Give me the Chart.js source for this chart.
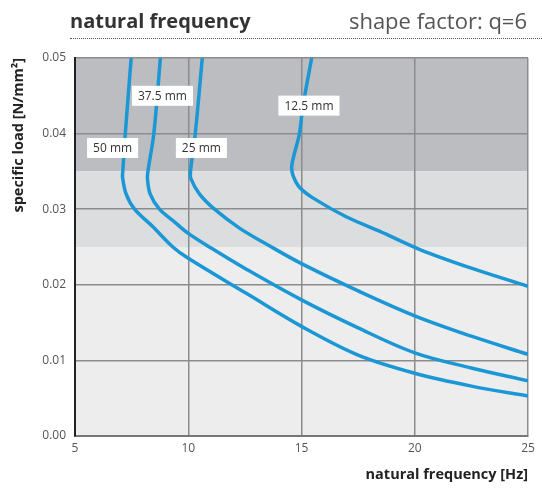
<!DOCTYPE html>
<html>
<head>
<meta charset="utf-8">
<script src="https://cdn.jsdelivr.net/npm/chart.js@4.4.1/dist/chart.umd.min.js"></script>
<style>
  body { margin: 0; background: #fff; font-family: "Open Sans", sans-serif; }
  #wrap { position: relative; width: 542px; height: 490px; }
  #head { position: absolute; left: 70px; top: 4px; width: 472px; height: 34px;
          border-bottom: 1px dotted #555; color: #333; }
  #head .t { position: absolute; left: 0; top: 3px; font-weight: bold; font-size: 20px; }
  #head .s { position: absolute; right: 15px; top: 1px; font-size: 22px; color: #555; }
  canvas { position: absolute; left: 0; top: 0; }
</style>
</head>
<body>
<div id="wrap">
  <canvas id="myChart" width="542" height="490"></canvas>
  <div id="head"><span class="t">natural frequency</span><span class="s">shape factor: q=6</span></div>
</div>
<script>
// curves: natural frequency [Hz] vs specific load [N/mm²]
var seriesNames = ["50 mm", "37.5 mm", "25 mm", "12.5 mm"];

var freq50 = [7.48, 7.22, 7.11, 7.10, 7.26, 7.63, 8.43, 9.32, 10.0, 12.6, 15.0, 17.5, 20.0, 22.5, 25.0];
var load50 = [0.050, 0.040, 0.035, 0.0342, 0.032, 0.030, 0.0277, 0.025, 0.0235, 0.0188, 0.0145, 0.0107, 0.0083, 0.0066, 0.0053];

var freq375 = [8.77, 8.48, 8.22, 8.20, 8.32, 8.73, 9.4, 10.0, 11.1, 12.6, 15.0, 17.5, 20.0, 22.5, 25.0];
var load375 = [0.050, 0.040, 0.035, 0.034, 0.032, 0.030, 0.0283, 0.0268, 0.0247, 0.0220, 0.0180, 0.0143, 0.0110, 0.0090, 0.0073];

var freq25 = [10.62, 10.31, 10.10, 10.12, 10.5, 11.16, 12.26, 13.5, 15.0, 17.5, 20.0, 22.5, 25.0];
var load25 = [0.050, 0.040, 0.035, 0.034, 0.032, 0.030, 0.0275, 0.0253, 0.0228, 0.0192, 0.0159, 0.0132, 0.0108];

var freq125 = [15.45, 15.06, 14.91, 14.69, 14.57, 14.62, 14.91, 15.5, 16.97, 18.44, 20.2, 22.5, 25.0];
var load125 = [0.050, 0.0436, 0.040, 0.0374, 0.0357, 0.0345, 0.0329, 0.0315, 0.029, 0.0271, 0.0247, 0.0222, 0.0198];

// label anchors (data units)
var labelFreq = [6.66, 8.86, 10.58, 15.33];
var labelLoad = [0.0381, 0.0450, 0.0381, 0.0437];

// shaded load ranges
var bandFrom = [0.035, 0.025, 0.0];
var bandTo = [0.05, 0.035, 0.025];
var bandColor = ["#bcbdc0", "#dcdddf", "#ededee"];

var xTicks = [5, 10, 15, 20, 25];

function pts(xs, ys) {
  return xs.map(function (x, i) { return { x: x, y: ys[i] }; });
}

var bands = {
  id: "bands",
  beforeDraw: function (chart) {
    var c = chart.ctx, a = chart.chartArea, ys = chart.scales.y;
    c.save();
    for (var i = 0; i < bandFrom.length; i++) {
      var top = ys.getPixelForValue(bandTo[i]);
      var bot = ys.getPixelForValue(bandFrom[i]);
      c.fillStyle = bandColor[i];
      c.fillRect(a.left, top, a.right - a.left, bot - top);
    }
    c.restore();
  }
};

var labels = {
  id: "labels",
  afterDatasetsDraw: function (chart) {
    var c = chart.ctx, xs = chart.scales.x, ys = chart.scales.y;
    c.save();
    c.font = "12px 'Open Sans'";
    c.textAlign = "center";
    c.textBaseline = "middle";
    for (var i = 0; i < seriesNames.length; i++) {
      var px = xs.getPixelForValue(labelFreq[i]);
      var py = ys.getPixelForValue(labelLoad[i]);
      var w = c.measureText(seriesNames[i]).width + 12;
      c.fillStyle = "#fff";
      c.fillRect(px - w / 2, py - 10, w, 20);
      c.fillStyle = "#333";
      c.fillText(seriesNames[i], px, py + 1);
    }
    c.restore();
  }
};

var sets = [pts(freq50, load50), pts(freq375, load375), pts(freq25, load25), pts(freq125, load125)];

var ctx = document.getElementById('myChart').getContext('2d');
var myChart = new Chart(ctx, {
  type: 'scatter',
  data: {
    datasets: sets.map(function (d, i) {
      return {
        label: seriesNames[i],
        data: d,
        showLine: true,
        borderColor: "#1b97d5",
        borderWidth: 3.5,
        pointRadius: 0,
        tension: 0.35,
        fill: false
      };
    })
  },
  options: {
    responsive: false,
    animation: false,
    layout: { padding: { top: 58, right: 14, left: 0, bottom: 0 } },
    plugins: { legend: { display: false }, tooltip: { enabled: false } },
    scales: {
      x: {
        type: 'linear', min: 5, max: 25,
        afterBuildTicks: function (s) { s.ticks = xTicks.map(function (v) { return { value: v }; }); },
        afterFit: function (s) { s.height = 54; },
        grid: { color: "#8c8c8c", lineWidth: 1.5, drawTicks: false },
        border: { color: "#777", width: 2 },
        ticks: { color: "#555", font: { family: "Open Sans", size: 12 }, padding: 5 },
        title: { display: true, text: "natural frequency [Hz]", align: "end", color: "#222",
                 font: { family: "Open Sans", size: 14.5, weight: "bold" }, padding: { top: 2, bottom: 6 } }
      },
      y: {
        min: 0, max: 0.05,
        afterFit: function (s) { s.width = 75; },
        grid: { color: "#8c8c8c", lineWidth: 1.5, drawTicks: false },
        border: { color: "#222", width: 2 },
        ticks: { stepSize: 0.01, color: "#555", font: { family: "Open Sans", size: 12 }, padding: 9,
                 callback: function (v) { return v.toFixed(2); } },
        title: { display: true, text: "specific load [N/mm²]", align: "end", color: "#222",
                 font: { family: "Open Sans", size: 14.5, weight: "bold" }, padding: { top: 10, bottom: 0 } }
      }
    }
  },
  plugins: [bands, labels]
});
</script>
</body>
</html>
